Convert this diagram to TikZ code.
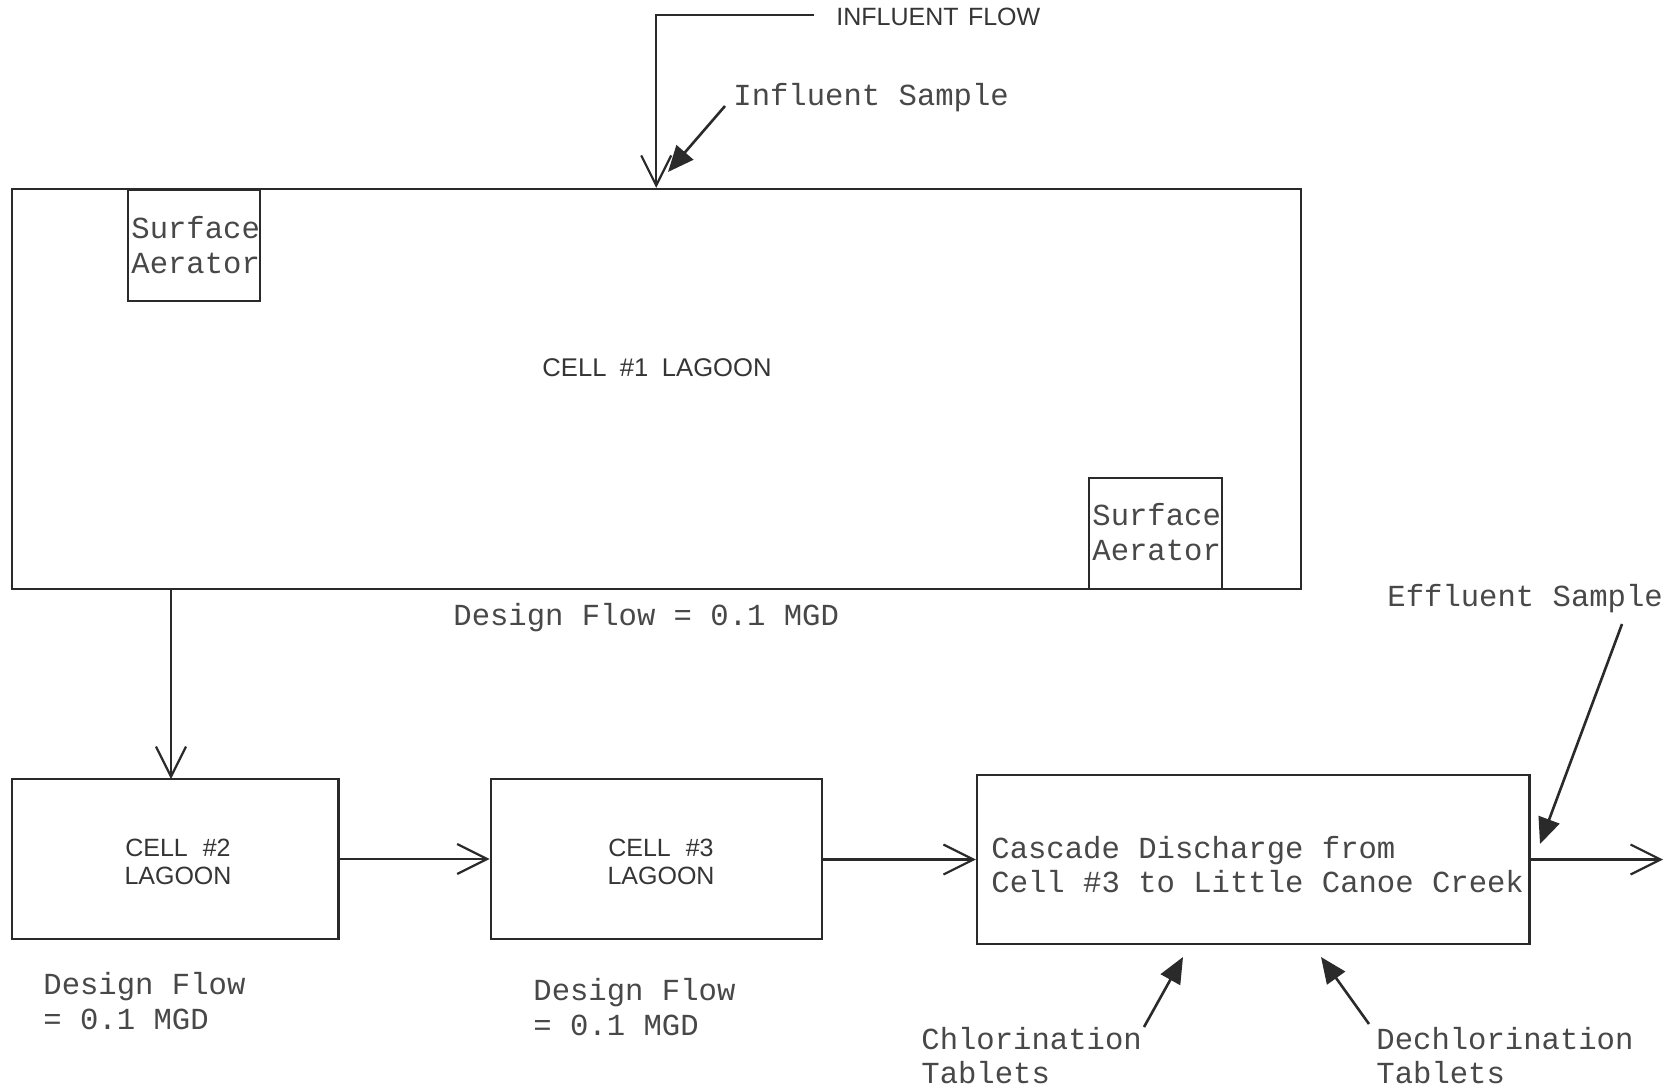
\documentclass[tikz,border=0pt]{standalone}
\usepackage{fontspec}
\newfontfamily\monofont{Liberation Mono}
\newfontfamily\cadfont{Liberation Sans}
\usetikzlibrary{arrows.meta}
\definecolor{ink}{HTML}{2A2A2A}
\definecolor{txt}{HTML}{484848}
\definecolor{cadtxt}{HTML}{353535}
\tikzset{
  box/.style={draw=ink, line width=1.1pt, inner sep=0pt, minimum width=#1},
  mtext/.style={inner sep=0pt, anchor=base west, text=txt, font=\monofont\fontsize{15.3}{17.5}\selectfont},
  ctext/.style={inner sep=0pt, anchor=center, text=cadtxt, font=\cadfont\fontsize{12.5}{14}\selectfont},
  flow/.style={draw=ink, line width=1.1pt, -{Straight Barb[length=15pt,width=15pt,line width=1.1pt]}},
  pointer/.style={draw=ink, line width=1.3pt, -{Triangle[length=13pt,width=11pt]}}
}
\begin{document}
\begin{tikzpicture}[x=0.5pt,y=-0.5pt]
\useasboundingbox (0,0) rectangle (1669,1087);
\fill[white] (0,0) rectangle (1669,1087);

% boxes
\node[box=644.5pt, minimum height=200pt] (cell1) at (656.2,389) {};
\node[box=66pt, minimum height=55.5pt] (aer1) at (194,245.5) {};
\node[box=66.5pt, minimum height=55.5pt] (aer2) at (1155.5,533.5) {};
\node[box=163.4pt, minimum height=80pt] (cell2) at (175.1,859) {};
\node[box=165.5pt, minimum height=80pt] (cell3) at (656.2,859) {};
\node[box=276.25pt, minimum height=84.5pt] (casc) at (1253.25,859.5) {};

% CAD-style labels
\node[ctext, anchor=west] (inflab) at (836,17) {INFLUENT\hspace{0.1em} FLOW};
\node[ctext, font=\cadfont\fontsize{12.8}{15}\selectfont] (c1lab) at (657,368) {CELL\hspace{0.25em} \#1\hspace{0.25em} LAGOON};
\node[ctext] (c2laba) at (178,848) {CELL\hspace{0.32em} \#2};
\node[ctext] (c2labb) at (178,876) {LAGOON};
\node[ctext] (c3laba) at (661,848) {CELL\hspace{0.32em} \#3};
\node[ctext] (c3labb) at (661,876) {LAGOON};

% monospaced labels
\node[mtext] (infsamp) at (733,105) {Influent Sample};
\node[mtext] (a1a) at (131,238) {Surface};
\node[mtext] (a1b) at (131,273) {Aerator};
\node[mtext] (a2a) at (1092,525) {Surface};
\node[mtext] (a2b) at (1092,560) {Aerator};
\node[mtext] (df1) at (453,625) {Design Flow = 0.1 MGD};
\node[mtext] (df2a) at (43,994) {Design Flow};
\node[mtext] (df2b) at (43,1029) {= 0.1 MGD};
\node[mtext] (df3a) at (533,1000) {Design Flow};
\node[mtext] (df3b) at (533,1035) {= 0.1 MGD};
\node[mtext] (cas1) at (991,858) {Cascade Discharge from};
\node[mtext] (cas2) at (991,892) {Cell \#3 to Little Canoe Creek};
\node[mtext] (effl) at (1387,606) {Effluent Sample};
\node[mtext] (chl1) at (921,1049) {Chlorination};
\node[mtext] (chl2) at (921,1083) {Tablets};
\node[mtext] (dch1) at (1376,1049) {Dechlorination};
\node[mtext] (dch2) at (1376,1083) {Tablets};

% coordinates
\coordinate (infstart) at (814,15);
\coordinate (infsampfrom) at (725,106);
\coordinate (infsampto) at (668,172);
\coordinate (out) at (1663,859.5);
\coordinate (efffrom) at (1622,624);
\coordinate (effto) at (1540,844);
\coordinate (chlfrom) at (1144,1027);
\coordinate (chlto) at (1183,957);
\coordinate (dchfrom) at (1369,1024);
\coordinate (dchto) at (1321,957);
\coordinate (c2in) at (171,779);

% connectors
\draw[flow] (infstart) -| (cell1.north);
\draw[flow] (c2in |- cell1.south) -- (c2in);
\draw[flow] (cell2.east) -- (cell3.west);
\draw[flow] (cell3.east |- casc.west) -- (casc.west);
\draw[flow] (casc.east) -- (out);

\draw[pointer] (infsampfrom) -- (infsampto);
\draw[pointer] (efffrom) -- (effto);
\draw[pointer] (chlfrom) -- (chlto);
\draw[pointer] (dchfrom) -- (dchto);
\end{tikzpicture}
\end{document}
